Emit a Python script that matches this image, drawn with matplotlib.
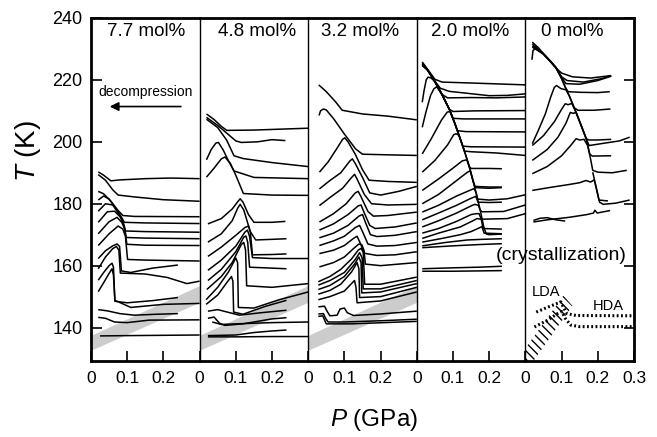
import matplotlib.pyplot as plt
from matplotlib.patches import Polygon

plt.rcParams['font.family'] = ['Liberation Sans', 'DejaVu Sans']
plt.rcParams['mathtext.fontset'] = 'custom'
plt.rcParams['mathtext.it'] = 'Liberation Sans:italic'
plt.rcParams['mathtext.rm'] = 'Liberation Sans'

# panel captions (LiCl concentration) and where they sit
panel_labels = ['7.7 mol%', '4.8 mol%', '3.2 mol%', '2.0 mol%', '0 mol%']
label_p = [0.153, 0.158, 0.144, 0.147, 0.129]

# decompression traces, (P [GPa], T [K])
curves_77 = [
    [(0.020, 190.3), (0.035, 189.2), (0.055, 187.4), (0.08, 187.7), (0.15, 188.1), (0.22, 188.3), (0.30, 188.1)],
    [(0.020, 189.4), (0.040, 187.6), (0.060, 184.5), (0.075, 182.8), (0.12, 182.2), (0.20, 181.3), (0.30, 180.8)],
    [(0.020, 184.0), (0.035, 183.2), (0.055, 180.8), (0.075, 177.8), (0.088, 176.2), (0.12, 175.9), (0.30, 175.8)],
    [(0.020, 181.2), (0.035, 182.5), (0.050, 181.5), (0.070, 178.3), (0.085, 175.5), (0.092, 174.0), (0.15, 173.8), (0.30, 173.6)],
    [(0.020, 177.6), (0.040, 180.0), (0.060, 179.6), (0.078, 176.5), (0.090, 173.5), (0.095, 171.2), (0.15, 171.0), (0.30, 170.8)],
    [(0.020, 174.0), (0.045, 177.4), (0.065, 177.6), (0.082, 175.6), (0.092, 172.8), (0.097, 169.1), (0.15, 168.9), (0.30, 168.7)],
    [(0.020, 170.3), (0.050, 174.2), (0.072, 175.6), (0.085, 174.0), (0.094, 171.5), (0.099, 166.9), (0.15, 166.6), (0.30, 166.5)],
    [(0.020, 166.5), (0.050, 170.3), (0.075, 172.8), (0.088, 171.8), (0.095, 169.5), (0.101, 162.0), (0.15, 161.8), (0.30, 161.5)],
    [(0.020, 162.3), (0.040, 164.8), (0.060, 166.4), (0.072, 167.0), (0.079, 166.2), (0.084, 158.3), (0.11, 157.8), (0.17, 159.2), (0.24, 160.2)],
    [(0.020, 159.0), (0.040, 162.8), (0.060, 165.5), (0.070, 166.2), (0.077, 165.0), (0.081, 157.6), (0.15, 157.3), (0.21, 156.2), (0.265, 154.2), (0.30, 155.0)],
    [(0.020, 155.3), (0.035, 157.8), (0.050, 160.0), (0.058, 160.8), (0.062, 159.5), (0.066, 148.5), (0.10, 148.0), (0.17, 148.7), (0.24, 149.7)],
    [(0.020, 151.6), (0.035, 154.5), (0.050, 157.5), (0.058, 159.0), (0.062, 157.0), (0.066, 148.8), (0.11, 146.5), (0.20, 147.5), (0.30, 147.8)],
    [(0.020, 145.8), (0.045, 145.4), (0.080, 144.5), (0.12, 144.0), (0.18, 144.3), (0.24, 144.5)],
    [(0.020, 143.3), (0.040, 143.0), (0.065, 141.8), (0.10, 141.6), (0.16, 142.4), (0.30, 142.5)],
    [(0.025, 137.3), (0.10, 137.4), (0.20, 137.5), (0.30, 137.6)],
]

curves_48 = [
    [(0.019, 209.0), (0.040, 207.2), (0.060, 205.0), (0.075, 203.7), (0.15, 203.8), (0.30, 204.4)],
    [(0.019, 207.9), (0.050, 205.3), (0.080, 202.3), (0.100, 200.3), (0.115, 199.8), (0.16, 200.0), (0.20, 200.7), (0.237, 200.4)],
    [(0.019, 207.3), (0.050, 204.6), (0.075, 200.5), (0.095, 195.5), (0.12, 194.6), (0.20, 193.3), (0.30, 192.0)],
    [(0.019, 194.2), (0.032, 197.5), (0.045, 199.6), (0.052, 199.8), (0.065, 197.4), (0.080, 193.8), (0.095, 190.6), (0.15, 188.5), (0.30, 188.1)],
    [(0.019, 188.6), (0.040, 191.5), (0.060, 194.5), (0.070, 195.1), (0.085, 193.0), (0.100, 189.2), (0.121, 183.3), (0.20, 182.8), (0.30, 182.7)],
    [(0.023, 173.5), (0.060, 175.2), (0.090, 178.3), (0.105, 180.6), (0.112, 181.6), (0.120, 180.5), (0.135, 176.5), (0.150, 174.0), (0.20, 174.0), (0.237, 174.3)],
    [(0.023, 167.6), (0.060, 170.3), (0.090, 174.5), (0.105, 178.5), (0.112, 179.8), (0.122, 178.0), (0.140, 171.0), (0.155, 168.3), (0.20, 168.5), (0.240, 168.7)],
    [(0.023, 163.0), (0.060, 166.0), (0.100, 169.8), (0.125, 172.3), (0.135, 172.8), (0.140, 171.0), (0.146, 163.5), (0.20, 163.6), (0.240, 163.8)],
    [(0.023, 158.5), (0.060, 161.8), (0.100, 166.3), (0.125, 170.8), (0.132, 171.5), (0.138, 169.5), (0.146, 162.6), (0.20, 162.3), (0.30, 162.3)],
    [(0.023, 155.2), (0.060, 158.8), (0.100, 164.5), (0.122, 169.2), (0.128, 169.6), (0.133, 167.5), (0.138, 159.5), (0.20, 159.2), (0.240, 159.0)],
    [(0.020, 152.3), (0.060, 156.5), (0.090, 161.0), (0.115, 166.8), (0.122, 167.5), (0.127, 165.0), (0.130, 153.5), (0.20, 153.0), (0.30, 154.2)],
    [(0.018, 149.0), (0.050, 153.0), (0.080, 158.0), (0.100, 162.5), (0.105, 161.0), (0.107, 146.5), (0.15, 146.3), (0.22, 149.0), (0.30, 151.5)],
    [(0.018, 147.5), (0.050, 150.5), (0.075, 154.5), (0.088, 156.5), (0.092, 155.0), (0.094, 145.0), (0.12, 144.3), (0.18, 146.8), (0.240, 148.8)],
    [(0.023, 145.3), (0.050, 145.8), (0.080, 144.9), (0.110, 144.0), (0.17, 144.8), (0.240, 145.6)],
    [(0.023, 143.0), (0.040, 143.4), (0.055, 141.4), (0.070, 140.7), (0.12, 141.2), (0.20, 142.8), (0.240, 143.2)],
    [(0.035, 141.8), (0.060, 141.0), (0.10, 141.2), (0.20, 141.6), (0.30, 141.8)],
    [(0.023, 137.4), (0.10, 137.6), (0.15, 138.4), (0.20, 138.9), (0.240, 139.2)],
    [(0.023, 137.0), (0.10, 137.0), (0.20, 137.1), (0.30, 137.1)],
]

curves_32 = [
    [(0.029, 218.4), (0.050, 216.2), (0.075, 213.0), (0.094, 210.2), (0.15, 209.0), (0.22, 208.3), (0.30, 207.1)],
    [(0.030, 208.5), (0.034, 210.0), (0.042, 210.6), (0.050, 210.3), (0.070, 207.5), (0.100, 202.5), (0.131, 197.7), (0.15, 196.0), (0.22, 195.8), (0.30, 195.6)],
    [(0.031, 190.2), (0.055, 193.5), (0.080, 198.0), (0.095, 200.8), (0.101, 201.3), (0.110, 200.0), (0.130, 196.0), (0.150, 191.0), (0.168, 187.6), (0.22, 187.2), (0.30, 186.9)],
    [(0.031, 184.8), (0.060, 187.5), (0.090, 190.0), (0.115, 193.8), (0.122, 194.5), (0.130, 193.0), (0.150, 188.5), (0.170, 183.5), (0.20, 182.8), (0.25, 184.0), (0.30, 185.6)],
    [(0.031, 179.4), (0.060, 182.0), (0.095, 185.0), (0.120, 188.5), (0.128, 189.5), (0.135, 188.0), (0.155, 183.0), (0.175, 180.0), (0.22, 179.6), (0.30, 179.8)],
    [(0.031, 174.1), (0.070, 176.8), (0.105, 180.0), (0.130, 183.5), (0.138, 184.0), (0.145, 182.5), (0.165, 177.5), (0.180, 176.0), (0.22, 176.2), (0.30, 177.3)],
    [(0.031, 171.5), (0.070, 173.5), (0.110, 176.5), (0.138, 179.3), (0.146, 179.6), (0.155, 177.0), (0.170, 173.0), (0.185, 172.0), (0.24, 172.5), (0.30, 173.8)],
    [(0.031, 169.0), (0.070, 170.5), (0.110, 173.0), (0.140, 176.0), (0.150, 176.5), (0.158, 174.0), (0.172, 170.0), (0.19, 169.4), (0.24, 169.8), (0.30, 171.0)],
    [(0.031, 166.5), (0.070, 168.0), (0.100, 169.5), (0.130, 172.3), (0.142, 173.0), (0.150, 171.0), (0.165, 167.0), (0.19, 166.3), (0.24, 166.5), (0.30, 167.5)],
    [(0.031, 163.9), (0.070, 165.0), (0.100, 166.5), (0.125, 168.8), (0.135, 169.5), (0.143, 167.5), (0.155, 164.0), (0.19, 163.3), (0.24, 163.5), (0.30, 164.5)],
    [(0.031, 159.6), (0.070, 161.0), (0.100, 162.8), (0.125, 165.5), (0.140, 167.0), (0.148, 166.8), (0.154, 165.0), (0.158, 160.5), (0.20, 160.0), (0.30, 161.0)],
    [(0.028, 154.8), (0.060, 156.5), (0.090, 158.8), (0.120, 162.2), (0.138, 165.0), (0.146, 165.6), (0.152, 164.3), (0.156, 154.0), (0.20, 154.0), (0.30, 156.3)],
    [(0.028, 153.7), (0.060, 155.2), (0.100, 157.8), (0.130, 162.0), (0.142, 164.2), (0.149, 162.5), (0.152, 152.5), (0.20, 152.5), (0.30, 155.2)],
    [(0.028, 152.3), (0.060, 153.6), (0.100, 156.5), (0.128, 160.5), (0.140, 162.8), (0.146, 161.0), (0.148, 151.2), (0.20, 151.5), (0.30, 154.2)],
    [(0.028, 150.8), (0.060, 152.0), (0.090, 154.0), (0.120, 158.0), (0.135, 161.0), (0.140, 159.0), (0.142, 149.7), (0.20, 150.0), (0.30, 153.0)],
    [(0.028, 149.0), (0.060, 150.0), (0.100, 151.8), (0.122, 154.5), (0.128, 155.2), (0.132, 153.0), (0.135, 148.0), (0.20, 148.6), (0.30, 151.5)],
    [(0.028, 146.7), (0.045, 146.9), (0.052, 145.3), (0.060, 143.8), (0.080, 144.0), (0.088, 146.0), (0.100, 146.3), (0.108, 144.8), (0.125, 143.9), (0.20, 144.4), (0.30, 145.3)],
    [(0.028, 144.4), (0.042, 144.5), (0.048, 143.0), (0.055, 141.8), (0.10, 141.8), (0.20, 142.2), (0.30, 142.7)],
    [(0.028, 143.6), (0.040, 143.8), (0.050, 141.2), (0.12, 141.2), (0.30, 142.0)],
]

curves_20 = [
    [(0.015, 225.8), (0.030, 223.4), (0.050, 220.2), (0.070, 219.3), (0.15, 219.0), (0.30, 218.4)],
    [(0.015, 225.4), (0.030, 223.2), (0.050, 219.6), (0.065, 217.3), (0.090, 216.3), (0.130, 215.8), (0.200, 214.9), (0.250, 215.0), (0.300, 215.5)],
    [(0.015, 225.0), (0.030, 223.1), (0.050, 219.5), (0.070, 215.3), (0.085, 214.2), (0.150, 214.3), (0.220, 214.2), (0.300, 214.5)],
    [(0.015, 212.8), (0.020, 216.5), (0.026, 220.0), (0.031, 220.9), (0.040, 220.6), (0.050, 219.4), (0.070, 215.2), (0.090, 210.5), (0.100, 209.8), (0.160, 210.0), (0.300, 210.1)],
    [(0.015, 204.7), (0.025, 209.5), (0.038, 215.0), (0.047, 217.1), (0.055, 217.8), (0.070, 215.2), (0.090, 210.5), (0.100, 207.6), (0.130, 207.4), (0.300, 207.4)],
    [(0.015, 196.1), (0.040, 201.0), (0.068, 207.0), (0.084, 209.6), (0.092, 209.8), (0.105, 206.0), (0.112, 203.6), (0.135, 203.3), (0.300, 203.2)],
    [(0.015, 190.2), (0.050, 194.0), (0.085, 199.0), (0.102, 202.3), (0.108, 202.6), (0.116, 202.2), (0.120, 201.0), (0.127, 198.6), (0.150, 198.4), (0.300, 198.3)],
    [(0.015, 224.6), (0.030, 223.2), (0.050, 219.5), (0.070, 215.2), (0.090, 210.5), (0.105, 206.0), (0.120, 201.0), (0.132, 197.0), (0.150, 196.8), (0.220, 196.4), (0.300, 195.6)],
    [(0.015, 225.2), (0.030, 223.2), (0.050, 219.5), (0.070, 215.2), (0.090, 210.5), (0.105, 206.0), (0.120, 201.0), (0.135, 195.8), (0.145, 192.0), (0.155, 187.6), (0.162, 185.2), (0.200, 185.0), (0.235, 185.2)],
    [(0.015, 224.9), (0.030, 223.1), (0.050, 219.4), (0.070, 215.1), (0.090, 210.4), (0.105, 205.9), (0.120, 200.9), (0.135, 195.7), (0.145, 191.9), (0.155, 187.5), (0.165, 183.0), (0.175, 178.0), (0.185, 172.5), (0.192, 170.2), (0.200, 170.0), (0.235, 170.2)],
    [(0.015, 184.3), (0.060, 188.0), (0.100, 191.5), (0.125, 193.8), (0.131, 194.0), (0.138, 194.2), (0.145, 192.0), (0.150, 191.4), (0.200, 191.4), (0.235, 191.3)],
    [(0.015, 180.0), (0.060, 183.0), (0.110, 187.5), (0.140, 190.2), (0.148, 190.6), (0.155, 187.6), (0.160, 185.6), (0.200, 185.4), (0.235, 185.4)],
    [(0.015, 177.3), (0.060, 179.5), (0.110, 182.5), (0.150, 184.5), (0.158, 184.9), (0.163, 183.8), (0.168, 181.5), (0.200, 181.2), (0.250, 181.6), (0.300, 182.9)],
    [(0.015, 174.8), (0.060, 177.0), (0.110, 179.5), (0.145, 181.5), (0.155, 182.0), (0.163, 182.4), (0.169, 180.5), (0.200, 180.4), (0.235, 180.5)],
    [(0.015, 172.5), (0.060, 174.5), (0.110, 177.0), (0.150, 179.3), (0.160, 179.8), (0.170, 179.5), (0.175, 178.0), (0.180, 177.4), (0.240, 177.5), (0.300, 179.6)],
    [(0.015, 170.5), (0.060, 172.0), (0.110, 174.3), (0.150, 176.5), (0.165, 176.8), (0.172, 176.8), (0.178, 175.0), (0.250, 175.2), (0.300, 176.8)],
    [(0.015, 168.8), (0.060, 170.5), (0.120, 172.5), (0.155, 174.5), (0.166, 175.2), (0.178, 175.0), (0.183, 172.0), (0.235, 171.8)],
    [(0.015, 167.6), (0.070, 168.8), (0.120, 170.0), (0.150, 171.0), (0.165, 171.8), (0.180, 172.6), (0.186, 170.5), (0.235, 170.3)],
    [(0.015, 166.4), (0.080, 167.5), (0.140, 168.3), (0.180, 168.5), (0.235, 168.7)],
    [(0.015, 165.8), (0.100, 166.4), (0.170, 166.8), (0.235, 167.1)],
    [(0.015, 159.0), (0.100, 159.3), (0.170, 159.5), (0.235, 159.8)],
    [(0.015, 158.2), (0.100, 158.2), (0.170, 158.3), (0.235, 158.4)],
]

curves_0 = [
    [(0.019, 232.2), (0.035, 230.5), (0.050, 228.5), (0.070, 226.0), (0.085, 223.8), (0.100, 222.2), (0.130, 221.0), (0.180, 220.6), (0.237, 221.4)],
    [(0.019, 231.6), (0.050, 228.3), (0.070, 225.8), (0.084, 224.0), (0.100, 221.0), (0.115, 219.8), (0.160, 219.3), (0.210, 220.4), (0.237, 221.4)],
    [(0.018, 226.5), (0.021, 229.5), (0.030, 230.4), (0.050, 228.4), (0.084, 224.0), (0.100, 220.8), (0.112, 218.8), (0.150, 218.6), (0.200, 219.8), (0.237, 221.2)],
    [(0.019, 231.0), (0.050, 228.4), (0.084, 224.1), (0.100, 220.5), (0.110, 217.6), (0.118, 216.2), (0.150, 216.0), (0.200, 215.9), (0.233, 216.2)],
    [(0.019, 230.6), (0.050, 228.3), (0.084, 224.0), (0.100, 220.4), (0.121, 214.9), (0.135, 211.0), (0.145, 210.2), (0.190, 210.2), (0.235, 210.6)],
    [(0.019, 199.4), (0.035, 203.5), (0.055, 209.0), (0.070, 214.5), (0.080, 217.6), (0.086, 218.2), (0.098, 217.2), (0.112, 216.8), (0.121, 214.9), (0.140, 209.5), (0.155, 205.0), (0.168, 201.0), (0.175, 200.6), (0.200, 200.6), (0.237, 200.8)],
    [(0.019, 198.8), (0.050, 202.0), (0.080, 206.5), (0.100, 210.5), (0.110, 212.3), (0.118, 212.0), (0.128, 212.4), (0.140, 209.5), (0.155, 205.0), (0.168, 201.0), (0.176, 198.8), (0.220, 199.6), (0.260, 200.3), (0.288, 201.5)],
    [(0.019, 194.0), (0.060, 197.5), (0.090, 201.5), (0.112, 206.0), (0.124, 209.5), (0.132, 209.2), (0.140, 209.5), (0.155, 205.0), (0.168, 201.0), (0.178, 196.0), (0.185, 195.4), (0.237, 195.5)],
    [(0.019, 189.7), (0.060, 192.0), (0.100, 195.5), (0.125, 198.8), (0.140, 201.0), (0.150, 200.6), (0.162, 200.8), (0.172, 198.8), (0.180, 194.5), (0.186, 190.8), (0.200, 190.2), (0.240, 190.0), (0.280, 190.8)],
    [(0.019, 184.3), (0.070, 185.3), (0.120, 186.2), (0.150, 186.8), (0.162, 187.3), (0.168, 187.5), (0.180, 187.0), (0.190, 187.7), (0.195, 185.5), (0.203, 181.2), (0.228, 180.9)],
    [(0.186, 190.2), (0.195, 185.5), (0.205, 180.5), (0.215, 179.8), (0.250, 180.2), (0.288, 181.2)],
    [(0.022, 174.1), (0.060, 174.8), (0.120, 175.6), (0.170, 176.5), (0.188, 177.0), (0.192, 177.9), (0.198, 177.0), (0.234, 177.8)],
    [(0.022, 174.6), (0.040, 175.3), (0.060, 175.5), (0.085, 174.8), (0.110, 174.4)],
]

all_curves = [curves_77, curves_48, curves_32, curves_20, curves_0]

# grey guide band in the three salt-rich panels
band_p = [0.0, 0.3]
band_lo = [132.7, 148.2]
band_hi = [137.5, 153.6]

# schematic in the pure water panel
lda_upper = [(0.030, 145.0), (0.060, 146.5), (0.098, 148.3), (0.105, 146.5), (0.115, 144.5), (0.140, 143.9), (0.300, 143.8)]
lda_lower = [(0.025, 140.2), (0.060, 142.3), (0.090, 144.6), (0.100, 145.2), (0.110, 143.0), (0.125, 140.8), (0.150, 140.3), (0.300, 140.3)]
hatch_outline = [(0.0, 133.3), (0.105, 150.3), (0.130, 147.0), (0.022, 129.2), (0.0, 129.2)]

y_ticks = [140, 160, 180, 200, 220, 240]

fig = plt.figure(figsize=(6.57, 4.37), dpi=100)
gs = fig.add_gridspec(1, 5, left=91 / 657, right=634 / 657,
                      bottom=1 - 361 / 437, top=1 - 18 / 437, wspace=0)
axes = [fig.add_subplot(gs[0, i]) for i in range(5)]

for i, ax in enumerate(axes):
    ax.set_xlim(0, 0.3)
    ax.set_ylim(129.2, 240)
    if i < 3:
        ax.fill_between(band_p, band_lo, band_hi, color='#cccccc', lw=0, zorder=1)
    for c in all_curves[i]:
        ps = [p for p, t in c]
        ts = [t for p, t in c]
        ax.plot(ps, ts, color='k', lw=1.1, zorder=2,
                solid_joinstyle='round', solid_capstyle='butt')
    ax.text(label_p[i], 235.5, panel_labels[i], ha='center', va='center', fontsize=13.5)

    # frame: thick outside, thin dividers
    ax.spines['top'].set_linewidth(2)
    ax.spines['bottom'].set_linewidth(2)
    ax.spines['left'].set_linewidth(2 if i == 0 else 1.0)
    if i == 4:
        ax.spines['right'].set_linewidth(2)
    else:
        ax.spines['right'].set_visible(False)

    if i == 4:
        ax.set_xticks([0, 0.1, 0.2, 0.3], ['0', '0.1', '0.2', '0.3'])
    else:
        ax.set_xticks([0, 0.1, 0.2], ['0', '0.1', '0.2'])
    ax.tick_params(axis='x', direction='in', length=7, width=1.2, labelsize=12.5, pad=7)

    ax.set_yticks(y_ticks)
    if i == 0:
        ax.tick_params(axis='y', direction='in', length=8, width=1.2, labelsize=13, pad=6)
    elif i == 4:
        ax.tick_params(axis='y', direction='in', length=7, width=1.2,
                       left=False, right=True, labelleft=False)
    else:
        ax.tick_params(axis='y', left=False, labelleft=False)

# decompression arrow in first panel
ax = axes[0]
ax.text(0.151, 216.1, 'decompression', ha='center', va='center', fontsize=10)
ax.annotate('', xy=(0.044, 211.4), xytext=(0.256, 211.4),
            arrowprops=dict(arrowstyle='-|>', color='k', lw=1.2, mutation_scale=13))

# schematic in the last panel
ax = axes[4]
ax.add_patch(Polygon(hatch_outline, closed=True, fill=False, hatch='\\\\\\\\',
                     edgecolor='k', lw=0, zorder=2))
for line in (lda_upper, lda_lower):
    ax.plot([p for p, t in line], [t for p, t in line], color='k', lw=2.2,
            ls=(0, (0.6, 0.8)), zorder=3)
ax.text(0.056, 151.5, 'LDA', ha='center', va='center', fontsize=10.5)
ax.text(0.228, 146.9, 'HDA', ha='center', va='center', fontsize=10.5)
ax.text(0.100, 163.3, '(crystallization)', ha='center', va='center',
        fontsize=14, clip_on=False, zorder=5)

fig.text(0.043, 0.655, '$T$ (K)', rotation=90, ha='center', va='center', fontsize=20)
fig.text(0.569, 0.039, '$P$ (GPa)', ha='center', va='center', fontsize=17.5)

fig.savefig('out.png', dpi=100)
